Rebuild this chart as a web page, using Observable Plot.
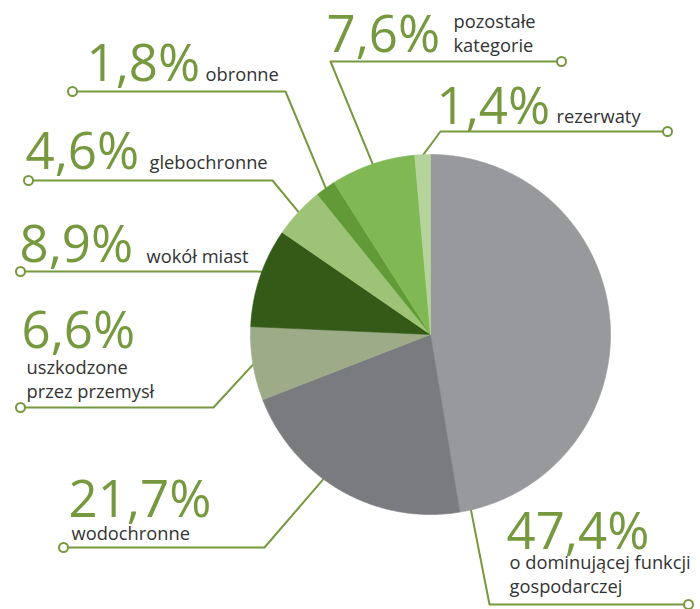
<!DOCTYPE html>
<html><head><meta charset="utf-8">
<script src="https://cdn.jsdelivr.net/npm/d3@7"></script>
<script src="https://cdn.jsdelivr.net/npm/@observablehq/plot@0.6"></script>
<style>body{margin:0;background:#fff;}</style>
</head><body><div id="chart"></div>
<script>
// ---- data ----
const categories = ["o dominującej funkcji gospodarczej", "wodochronne", "uszkodzone przez przemysł", "wokół miast", "glebochronne", "obronne", "pozostałe kategorie", "rezerwaty"];
const values = [47.4, 21.7, 6.6, 8.9, 4.6, 1.8, 7.6, 1.4];
const percentLabels = ["47,4%", "21,7%", "6,6%", "8,9%", "4,6%", "1,8%", "7,6%", "1,4%"];
const categoryLabels = ["o dominującej funkcji\ngospodarczej", "wodochronne", "uszkodzone\nprzez przemysł", "wokół miast", "glebochronne", "obronne", "pozostałe\nkategorie", "rezerwaty"];
const colors = ["#98999c", "#7a7b7f", "#9eab88", "#345a17", "#9dc476", "#629a38", "#80b954", "#b6d39b"];

// ---- layout (annotation positions, px) ----
const W = 700, H = 609, CX = 430, CY = 334, R = 180;
const GREEN = "#76993f", TEXT = "#333333";
// circle end, elbow, anchor angle on pie (deg, null = slice middle), percent pos, label pos
const layout = [
  {dot:[688,604], elbow:[489,604], ang:167, pct:[506,548], lab:[509,592]},
  {dot:[63,547],  elbow:[264,547], ang:216.5, pct:[68,516], lab:[71,539]},
  {dot:[20,407],  elbow:[213,407], ang:null, pct:[21,347], lab:[26,397]},
  {dot:[20,271],  elbow:[255,271], ang:290.5, pct:[19,261], lab:[146,262]},
  {dot:[28,180],  elbow:[272,180], ang:null, pct:[25,168], lab:[149,168]},
  {dot:[72,91],   elbow:[285,91],  ang:null, pct:[86,80],  lab:[205,80]},
  {dot:[561,61],  elbow:[330,61],  ang:null, pct:[326,51], lab:[453,51]},
  {dot:[667,131], elbow:[440,131], ang:null, pct:[436,123], lab:[556,122]}
];

const arcs = d3.pie().sort(null).value(d => d)(values);
const pt = (a, r) => [CX + r * Math.sin(a), CY - r * Math.cos(a)];

// slice polygons
const slices = [];
arcs.forEach((a, i) => {
  const n = Math.max(2, Math.ceil((a.endAngle - a.startAngle) / (Math.PI / 360)));
  slices.push({k: categories[i], x: CX, y: CY});
  for (let j = 0; j <= n; j++) {
    const [x, y] = pt(a.startAngle + (a.endAngle - a.startAngle) * j / n, R);
    slices.push({k: categories[i], x, y});
  }
  slices.push({k: categories[i], x: CX, y: CY});
});

// leader lines
const leaders = [];
arcs.forEach((a, i) => {
  const L = layout[i];
  const ang = L.ang == null ? (a.startAngle + a.endAngle) / 2 : L.ang * Math.PI / 180;
  const [ex, ey] = pt(ang, R - 1);
  leaders.push({k: i, x: L.dot[0], y: L.dot[1]});
  leaders.push({k: i, x: L.elbow[0], y: L.elbow[1]});
  leaders.push({k: i, x: ex, y: ey});
});
const dots = layout.map((L, i) => ({x: L.dot[0], y: L.dot[1]}));
const pctText = layout.map((L, i) => ({x: L.pct[0], y: L.pct[1], t: percentLabels[i]}));
const labText = layout.map((L, i) => ({x: L.lab[0], y: L.lab[1], t: categoryLabels[i]}));

const chart = Plot.plot({
  width: W, height: H,
  margin: 0,
  x: {domain: [0, W], range: [0, W], axis: null},
  y: {domain: [0, H], range: [0, H], axis: null},
  color: {domain: categories, range: colors},
  style: {background: "#fff", fontFamily: "'Open Sans', sans-serif"},
  marks: [
    Plot.line(leaders, {x: "x", y: "y", z: "k", stroke: GREEN, strokeWidth: 2, curve: "linear"}),
    Plot.line(slices, {x: "x", y: "y", z: "k", fill: "k", stroke: "k", strokeWidth: 0.6, curve: "linear"}),
    Plot.dot(dots, {x: "x", y: "y", r: 4.5, stroke: GREEN, strokeWidth: 2, fill: "#fff"}),
    Plot.text(pctText, {x: "x", y: "y", text: "t", textAnchor: "start", lineAnchor: "bottom", fontSize: 51, fontWeight: 400, fill: GREEN}),
    Plot.text(labText, {x: "x", y: "y", text: "t", textAnchor: "start", lineAnchor: "bottom", fontSize: 18.3, lineHeight: 1.27, fill: TEXT})
  ]
});
document.getElementById("chart").appendChild(chart);
</script>
</body></html>
